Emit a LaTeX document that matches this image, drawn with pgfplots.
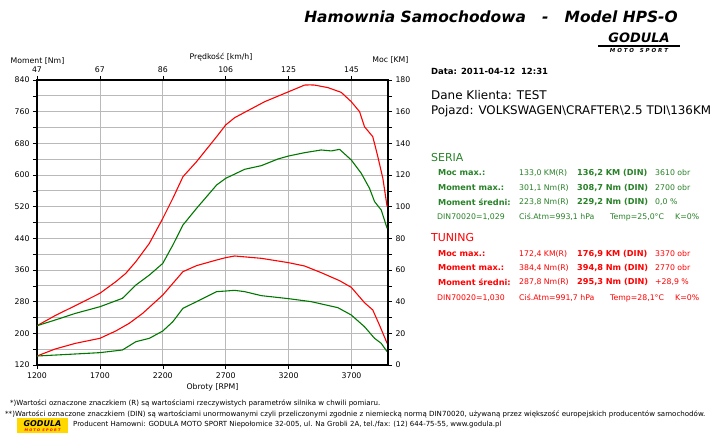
\documentclass[border=0pt]{standalone}
\usepackage{pgfplots}
\pgfplotsset{compat=1.18}
\usepackage{fontspec}
\setmainfont{DejaVu Sans}
\definecolor{cRed}{RGB}{255,0,0}
\definecolor{cGrn}{RGB}{0,120,0}
\definecolor{tGrn}{RGB}{40,130,40}
\definecolor{logoY}{RGB}{255,216,0}
\newcommand{\fs}[1]{\fontsize{#1}{#1}\selectfont}

\begin{document}
\begin{tikzpicture}
\useasboundingbox (0,0) rectangle (716bp,438bp);
\fill[white] (0,0) rectangle (716bp,438bp);

% torque axis (left, bottom)
\begin{axis}[
  at={(37bp,73bp)}, anchor=south west,
  scale only axis, width=351bp, height=285bp,
  xmin=1200, xmax=3990, ymin=120, ymax=840,
  xtick={1200,1700,...,3700}, ytick={120,200,...,840},
  minor y tick num=1,
  xtick pos=bottom, ytick pos=left,
  grid=both,
  major grid style={gray!55, line width=0.7pt},
  minor grid style={gray!55, line width=0.7pt},
  axis line style={line width=1.5pt},
  tick align=outside, major tick length=4bp, minor tick length=4bp,
  tick style={black, line width=0.6pt},
  ticklabel style={font=\fs{7.8}},
  /pgf/number format/assume math mode=true,
  /pgf/number format/1000 sep={},
  xlabel={Obroty [RPM]}, xlabel style={font=\fs{7.8}, yshift=2bp},
]
\addplot[cRed, line width=1.1pt] coordinates {
(1200,142.7) (1344,160.4) (1505,174.7) (1700,187.4) (1826,205.9) (1933,225.3)
(2040,250.5) (2200,296.8) (2360,355.8) (2468,371) (2628,385.3) (2700,391.2)
(2771,395.4) (2983,389.5) (3200,378.5) (3327,370.1) (3459,353.3) (3605,333)
(3698,316.2) (3803,277.5) (3869,259) (3922,221) (3983,174.7) };
\addplot[cGrn, line width=1.1pt] coordinates {
(1200,142.7) (1451,146.9) (1700,151.2) (1879,157.9) (1986,178.9) (2093,187.4)
(2200,205.9) (2280,229.5) (2360,263.2) (2468,280) (2628,305.3) (2700,306.9)
(2771,308.6) (2851,305.3) (2983,295.2) (3200,287.6) (3380,280) (3592,264.8)
(3698,246.3) (3803,216.8) (3883,187.4) (3936,174.7) (3983,153.7) };
\end{axis}

% power axis (right, top)
\begin{axis}[
  at={(37bp,73bp)}, anchor=south west,
  scale only axis, width=351bp, height=285bp,
  xmin=1200, xmax=3990, ymin=0, ymax=180,
  axis x line*=top, axis y line*=right,
  xtick={1200,1700,...,3700}, xticklabels={47,67,86,106,125,145},
  ytick={0,20,...,180}, minor y tick num=1,
  axis line style={line width=1.5pt, -},
  tick align=outside, major tick length=4bp, minor tick length=4bp,
  tick style={black, line width=0.6pt},
  ticklabel style={font=\fs{7.8}},
  /pgf/number format/assume math mode=true,
]
\addplot[cRed, line width=1.1pt] coordinates {
(1200,24.8) (1344,31.2) (1505,37.5) (1700,45.3) (1826,52.6) (1906,57.9)
(1986,65.3) (2093,76.8) (2200,92.6) (2280,105.3) (2360,118.9) (2468,128.4)
(2628,144.2) (2700,151.6) (2771,156.2) (2851,159.6) (3010,166.3) (3200,172.6)
(3327,176.8) (3370,176.9) (3406,176.8) (3512,175.2) (3618,172.2) (3698,166.3)
(3764,160) (3803,150.5) (3869,144.2) (3909,131.6) (3949,117.9) (3983,100) };
\addplot[cGrn, line width=1.1pt] coordinates {
(1200,24.8) (1344,28.4) (1505,32.6) (1700,36.8) (1879,42.1) (1986,50.5)
(2093,56.8) (2200,64.2) (2280,75.8) (2360,88.4) (2468,98.9) (2628,113.7)
(2700,117.9) (2851,123.6) (2983,125.9) (3115,130.1) (3200,132) (3327,134.1)
(3459,135.8) (3539,135.2) (3605,136.2) (3698,129.5) (3777,121.1) (3843,111.6)
(3883,103.2) (3936,97.9) (3983,86.3) };
\end{axis}

% axis titles
\node[font=\fs{7.8}] at (37.5bp,377bp) {Moment [Nm]};
\node[font=\fs{7.8}] at (221bp,381bp) {Prędkość [km/h]};
\node[font=\fs{7.8}, anchor=east] at (412bp,378bp) {Moc [KM]};

% header
\node[font=\fs{15.5}\bfseries\itshape] at (491bp,421bp) {Hamownia Samochodowa \ \ - \ \ Model HPS-O};
\node[font=\fs{13}\bfseries\itshape] at (639bp,400bp) {GODULA};
\draw[line width=1.2pt] (598bp,392bp) -- (680bp,392bp);
\node[font=\fs{5.5}\bfseries\itshape] at (639bp,387bp) {M O T O \ \ S P O R T};

% info panel
\node[anchor=west, font=\fs{8.5}\bfseries, inner sep=0] at (431bp,367bp) {Data: 2011-04-12\ \ 12:31};
\node[anchor=west, font=\fs{12}, inner sep=0] at (431bp,343bp) {Dane Klienta: TEST};
\node[anchor=west, font=\fs{11.9}, inner sep=0] at (431bp,327bp) {Pojazd: VOLKSWAGEN\textbackslash CRAFTER\textbackslash 2.5 TDI\textbackslash 136KM};

\begin{scope}[every node/.style={anchor=west, inner sep=0, font=\fs{7.8}, text=tGrn}]
\node[font=\fs{11}] at (431bp,280bp) {SERIA};
\node[font=\fs{8.2}\bfseries] at (438bp,265bp) {Moc max.:};
\node at (519bp,265bp) {133,0 KM(R)};
\node[font=\fs{8.2}\bfseries] at (577bp,265bp) {136,2 KM (DIN)};
\node at (655bp,265bp) {3610 obr};
\node[font=\fs{8.2}\bfseries] at (438bp,250bp) {Moment max.:};
\node at (519bp,250bp) {301,1 Nm(R)};
\node[font=\fs{8.2}\bfseries] at (577bp,250bp) {308,7 Nm (DIN)};
\node at (655bp,250bp) {2700 obr};
\node[font=\fs{8.2}\bfseries] at (438bp,236bp) {Moment średni:};
\node at (519bp,236bp) {223,8 Nm(R)};
\node[font=\fs{8.2}\bfseries] at (577bp,236bp) {229,2 Nm (DIN)};
\node at (655bp,236bp) {0,0 \%};
\node at (437bp,221bp) {DIN70020=1,029};
\node at (519bp,221bp) {Ciś.Atm=993,1 hPa};
\node at (610bp,221bp) {Temp=25,0°C};
\node at (675bp,221bp) {K=0\%};
\end{scope}

\begin{scope}[every node/.style={anchor=west, inner sep=0, font=\fs{7.8}, text=cRed}]
\node[font=\fs{11}] at (431bp,200bp) {TUNING};
\node[font=\fs{8.2}\bfseries] at (438bp,184bp) {Moc max.:};
\node at (519bp,184bp) {172,4 KM(R)};
\node[font=\fs{8.2}\bfseries] at (577bp,184bp) {176,9 KM (DIN)};
\node at (655bp,184bp) {3370 obr};
\node[font=\fs{8.2}\bfseries] at (438bp,170bp) {Moment max.:};
\node at (519bp,170bp) {384,4 Nm(R)};
\node[font=\fs{8.2}\bfseries] at (577bp,170bp) {394,8 Nm (DIN)};
\node at (655bp,170bp) {2770 obr};
\node[font=\fs{8.2}\bfseries] at (438bp,156bp) {Moment średni:};
\node at (519bp,156bp) {287,8 Nm(R)};
\node[font=\fs{8.2}\bfseries] at (577bp,156bp) {295,3 Nm (DIN)};
\node at (655bp,156bp) {+28,9 \%};
\node at (437bp,140bp) {DIN70020=1,030};
\node at (519bp,140bp) {Ciś.Atm=991,7 hPa};
\node at (610bp,140bp) {Temp=28,1°C};
\node at (675bp,140bp) {K=0\%};
\end{scope}

% footnotes
\node[anchor=west, inner sep=0, font=\fs{7.1}] at (10bp,35bp) {*)Wartości oznaczone znaczkiem (R) są wartościami rzeczywistych parametrów silnika w chwili pomiaru.};
\node[anchor=west, inner sep=0, font=\fs{7.1}] at (5bp,24bp) {**)Wartości oznaczone znaczkiem (DIN) są wartościami unormowanymi czyli przeliczonymi zgodnie z niemiecką normą DIN70020, używaną przez większość europejskich producentów samochodów.};
\fill[logoY] (17bp,5bp) rectangle (68bp,20bp);
\node[font=\fs{8}\bfseries\itshape, inner sep=0] at (42.5bp,14.5bp) {GODULA};
\node[font=\fs{3.5}\bfseries\itshape, text=cRed, inner sep=0] at (42.5bp,7.5bp) {M O T O \ S P O R T};
\node[anchor=west, inner sep=0, font=\fs{7.0}] at (73bp,13bp) {Producent Hamowni: GODULA MOTO SPORT Niepołomice 32-005, ul. Na Grobli 2A, tel./fax: (12) 644-75-55, www.godula.pl};
\end{tikzpicture}
\end{document}
